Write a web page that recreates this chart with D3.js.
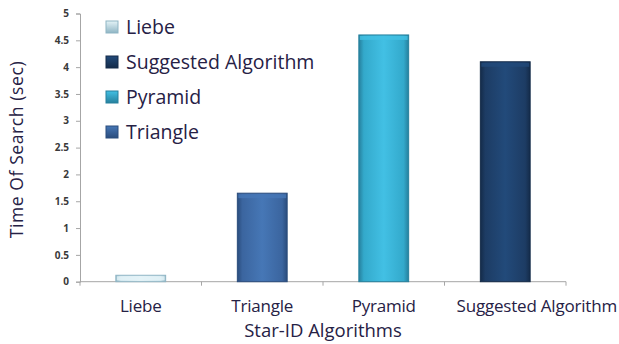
<!DOCTYPE html>
<html>
<head>
<meta charset="utf-8">
<script src="https://cdn.jsdelivr.net/npm/d3@7/dist/d3.min.js"></script>
<style>
  html, body { margin: 0; padding: 0; background: #fff; }
  svg { display: block; }
  text { font-family: "Open Sans", Lato, sans-serif; }
</style>
</head>
<body>
<svg id="chart" width="619" height="344"></svg>
<script>
// Search time per star identification algorithm
const categories = ["Liebe", "Triangle", "Pyramid", "Suggested Algorithm"];
const values = [0.12, 1.65, 4.6, 4.1];
const yTicks = [0, 0.5, 1, 1.5, 2, 2.5, 3, 3.5, 4, 4.5, 5];
const legendOrder = ["Liebe", "Suggested Algorithm", "Pyramid", "Triangle"];

const fills = {
  "Liebe": ["#e4f3f7", "#cfe6ee", "#8fb5c4"],
  "Triangle": ["#4677b6", "#3b659f", "#2a4c7c"],
  "Pyramid": ["#42c0e4", "#33a9cb", "#26809d"],
  "Suggested Algorithm": ["#224a7a", "#1d3c64", "#142b49"]
};

const svg = d3.select("#chart");
const margin = { left: 80, right: 53, top: 13.5, bottom: 62.3 };
const W = 619, H = 344;

const x = d3.scaleBand()
  .domain(categories)
  .range([margin.left, W - margin.right])
  .paddingInner(0.59)
  .paddingOuter(0.295);

const y = d3.scaleLinear()
  .domain([0, 5])
  .range([H - margin.bottom, margin.top]);

// gradients giving each bar a slightly bevelled look
const defs = svg.append("defs");
categories.forEach((c, i) => {
  const [light, mid, dark] = fills[c];
  const g = defs.append("linearGradient")
    .attr("id", "grad" + i).attr("x1", 0).attr("x2", 1).attr("y1", 0).attr("y2", 0);
  g.append("stop").attr("offset", "0%").attr("stop-color", dark);
  g.append("stop").attr("offset", "10%").attr("stop-color", mid);
  g.append("stop").attr("offset", "50%").attr("stop-color", light);
  g.append("stop").attr("offset", "90%").attr("stop-color", mid);
  g.append("stop").attr("offset", "100%").attr("stop-color", dark);
  const v = defs.append("linearGradient")
    .attr("id", "vgrad" + i).attr("x1", 0).attr("x2", 0).attr("y1", 0).attr("y2", 1);
  v.append("stop").attr("offset", "0%").attr("stop-color", light);
  v.append("stop").attr("offset", "100%").attr("stop-color", dark);
});

// y axis
const yAxis = svg.append("g")
  .attr("transform", `translate(${margin.left},0)`)
  .call(d3.axisLeft(y).tickValues(yTicks).tickSize(4).tickPadding(7)
    .tickFormat(d => d3.format("")(d)));
yAxis.select(".domain").attr("stroke", "#a6a6a6");
yAxis.selectAll(".tick line").attr("stroke", "#a6a6a6");
yAxis.selectAll(".tick text")
  .attr("fill", "#3a3a3a").attr("font-size", 10).attr("font-weight", "bold");

// x axis with ticks at category boundaries
const bounds = categories.map(c => x(c) - x.step() * x.paddingOuter()).concat([W - margin.right]);
const xAxisG = svg.append("g").attr("transform", `translate(0,${y(0)})`);
xAxisG.append("line")
  .attr("x1", margin.left).attr("x2", W - margin.right)
  .attr("stroke", "#a6a6a6");
xAxisG.selectAll(".bt").data(bounds).join("line")
  .attr("x1", d => d).attr("x2", d => d).attr("y1", 0).attr("y2", 4)
  .attr("stroke", "#a6a6a6");
// the last (long) label sits flush against the right edge of the chart
const last = categories[categories.length - 1];
xAxisG.selectAll(".lbl").data(categories).join("text")
  .attr("x", d => d === last ? W - 2 : x(d) + x.bandwidth() / 2)
  .attr("y", 30)
  .attr("text-anchor", d => d === last ? "end" : "middle")
  .attr("font-size", 17)
  .attr("letter-spacing", -0.2)
  .attr("fill", "#262145")
  .text(d => d);

// bars
const bars = svg.append("g");
categories.forEach((c, i) => {
  const bx = x(c), bw = x.bandwidth(), by = y(values[i]), bh = y(0) - y(values[i]);
  bars.append("rect")
    .attr("x", bx).attr("y", by).attr("width", bw).attr("height", bh)
    .attr("fill", `url(#grad${i})`)
    .attr("stroke", fills[c][2]).attr("stroke-width", 1);
  bars.append("rect")
    .attr("x", bx + 1).attr("y", by + 1).attr("width", bw - 2).attr("height", Math.min(4, bh - 1))
    .attr("fill", fills[c][0]).attr("opacity", 0.8);
});

// legend
const legend = svg.append("g").attr("transform", "translate(106,27)");
legendOrder.forEach((c, i) => {
  const idx = categories.indexOf(c);
  const row = legend.append("g").attr("transform", `translate(0,${i * 35})`);
  row.append("rect")
    .attr("x", 0).attr("y", -6).attr("width", 12).attr("height", 12)
    .attr("fill", `url(#vgrad${idx})`)
    .attr("stroke", fills[c][2]).attr("stroke-width", 1);
  row.append("text")
    .attr("x", 20).attr("y", 7)
    .attr("font-size", 19.5)
    .attr("fill", "#262145")
    .text(c);
});

// axis titles
svg.append("text")
  .attr("transform", `translate(23,${(y(0) + y(5)) / 2 + 2}) rotate(-90)`)
  .attr("text-anchor", "middle")
  .attr("font-size", 17.5)
  .attr("letter-spacing", 0.6)
  .attr("fill", "#262145")
  .text("Time Of Search (sec)");

svg.append("text")
  .attr("x", (margin.left + W - margin.right) / 2)
  .attr("y", 337)
  .attr("text-anchor", "middle")
  .attr("font-size", 18.5)
  .attr("fill", "#262145")
  .text("Star-ID Algorithms");
</script>
</body>
</html>
